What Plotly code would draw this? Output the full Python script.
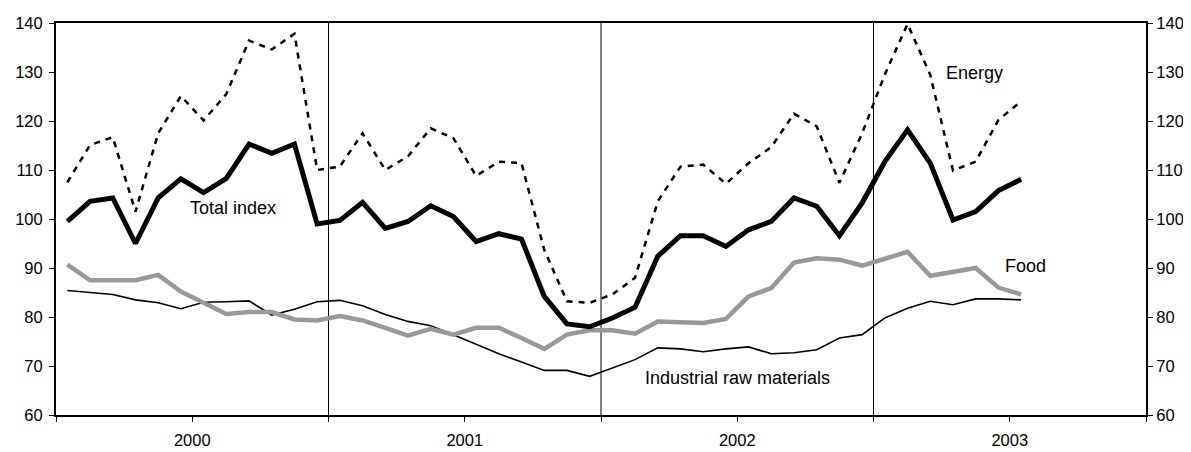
import plotly.graph_objects as go

# Monthly observations Jan 2000 .. Jul 2003 (43 months)
months = list(range(43))

total_index = [99.5, 103.6, 104.3, 95.0, 104.3, 108.2, 105.4, 108.3, 115.3, 113.4, 115.3, 99.0,
               99.7, 103.4, 98.1, 99.5, 102.7, 100.5, 95.4, 97.0, 95.9, 84.2, 78.6, 78.0,
               79.8, 82.0, 92.4, 96.6, 96.6, 94.4, 97.8, 99.5, 104.3, 102.6, 96.6, 103.3,
               111.7, 118.2, 111.4, 99.8, 101.5, 105.8, 108.1]

energy = [107.5, 115.1, 116.7, 101.5, 117.5, 125.1, 120.1, 125.5, 136.4, 134.6, 137.8, 110.0,
          110.7, 117.5, 110.0, 112.8, 118.5, 116.5, 108.8, 111.7, 111.4, 93.7, 83.2, 82.9,
          84.6, 88.0, 103.6, 110.7, 111.1, 107.2, 111.4, 114.7, 121.5, 118.9, 107.4, 117.5,
          129.5, 139.8, 129.4, 109.9, 111.7, 120.2, 124.0]

food = [90.7, 87.5, 87.5, 87.5, 88.6, 85.2, 82.9, 80.6, 81.0, 81.0, 79.5, 79.3,
        80.2, 79.3, 77.8, 76.2, 77.6, 76.4, 77.8, 77.8, 75.7, 73.5, 76.4, 77.3,
        77.3, 76.6, 79.1, 79.0, 78.8, 79.6, 84.2, 85.9, 91.1, 92.0, 91.7, 90.5,
        91.8, 93.3, 88.4, 89.1, 90.0, 86.0, 84.6]

industrial = [85.4, 85.0, 84.6, 83.5, 82.9, 81.7, 83.0, 83.1, 83.3, 80.4, 81.6, 83.1,
              83.4, 82.3, 80.5, 79.1, 78.2, 76.4, 74.4, 72.5, 70.8, 69.1, 69.1, 67.9,
              69.6, 71.3, 73.7, 73.5, 72.9, 73.5, 73.9, 72.5, 72.7, 73.3, 75.7, 76.4,
              79.8, 81.8, 83.2, 82.5, 83.7, 83.7, 83.5]

years = ["2000", "2001", "2002", "2003"]
year_boundaries = [12, 24, 36]
y_ticks = [60, 70, 80, 90, 100, 110, 120, 130, 140]

x = [m + 0.5 for m in months]

FONT = "Liberation Sans, Arial, Helvetica, sans-serif"
TICK_SIZE = 16.5
LABEL_SIZE = 18

fig = go.Figure()
fig.add_trace(go.Scatter(x=x, y=industrial, mode="lines", name="Industrial raw materials",
                         line=dict(color="black", width=1.6)))
fig.add_trace(go.Scatter(x=x, y=food, mode="lines", name="Food",
                         line=dict(color="#999999", width=4.5)))
fig.add_trace(go.Scatter(x=x, y=energy, mode="lines", name="Energy",
                         line=dict(color="black", width=2.5, dash="6px,6px")))
fig.add_trace(go.Scatter(x=x, y=total_index, mode="lines", name="Total index",
                         line=dict(color="black", width=5)))
# invisible trace to anchor right axis
fig.add_trace(go.Scatter(x=[x[0]], y=[total_index[0]], mode="lines", yaxis="y2",
                         line=dict(width=0), showlegend=False, hoverinfo="skip"))

tickvals = [6 * k for k in range(9)]
ticktext = []
for k in range(9):
    ticktext.append(years[k // 2] if k % 2 == 1 else "")

for b in year_boundaries:
    fig.add_shape(type="line", xref="x", yref="paper", x0=b, x1=b, y0=0, y1=1,
                  line=dict(color="black", width=1), layer="below")

labels = [
    ("Total index", 7.8, 102.3),
    ("Energy", 40.45, 129.8),
    ("Food", 42.7, 90.5),
    ("Industrial raw materials", 30.0, 67.6),
]
for txt, lx, ly in labels:
    fig.add_annotation(x=lx, y=ly, text=txt, showarrow=False,
                       font=dict(family=FONT, size=LABEL_SIZE, color="black"))

axis_common = dict(ticks="outside", ticklen=5, tickwidth=1, tickcolor="black",
                   showgrid=False, zeroline=False, showline=True, linecolor="black",
                   linewidth=2, tickfont=dict(family=FONT, size=TICK_SIZE, color="black"))

fig.update_layout(
    width=1183, height=444,
    margin=dict(l=48, r=45, t=15, b=37, autoexpand=False),
    paper_bgcolor="white", plot_bgcolor="white",
    showlegend=False,
    font=dict(family=FONT, size=TICK_SIZE, color="black"),
    xaxis=dict(range=[0, 48], tickmode="array", tickvals=tickvals, ticktext=ticktext,
               mirror=True, ticklabelstandoff=4, **axis_common),
    yaxis=dict(range=[60, 140], tickmode="array", tickvals=y_ticks, mirror=True,
               ticklabelstandoff=3, **axis_common),
    yaxis2=dict(range=[60, 140], tickmode="array", tickvals=y_ticks, overlaying="y",
                side="right", **axis_common),
)

fig.write_html("out.html")
